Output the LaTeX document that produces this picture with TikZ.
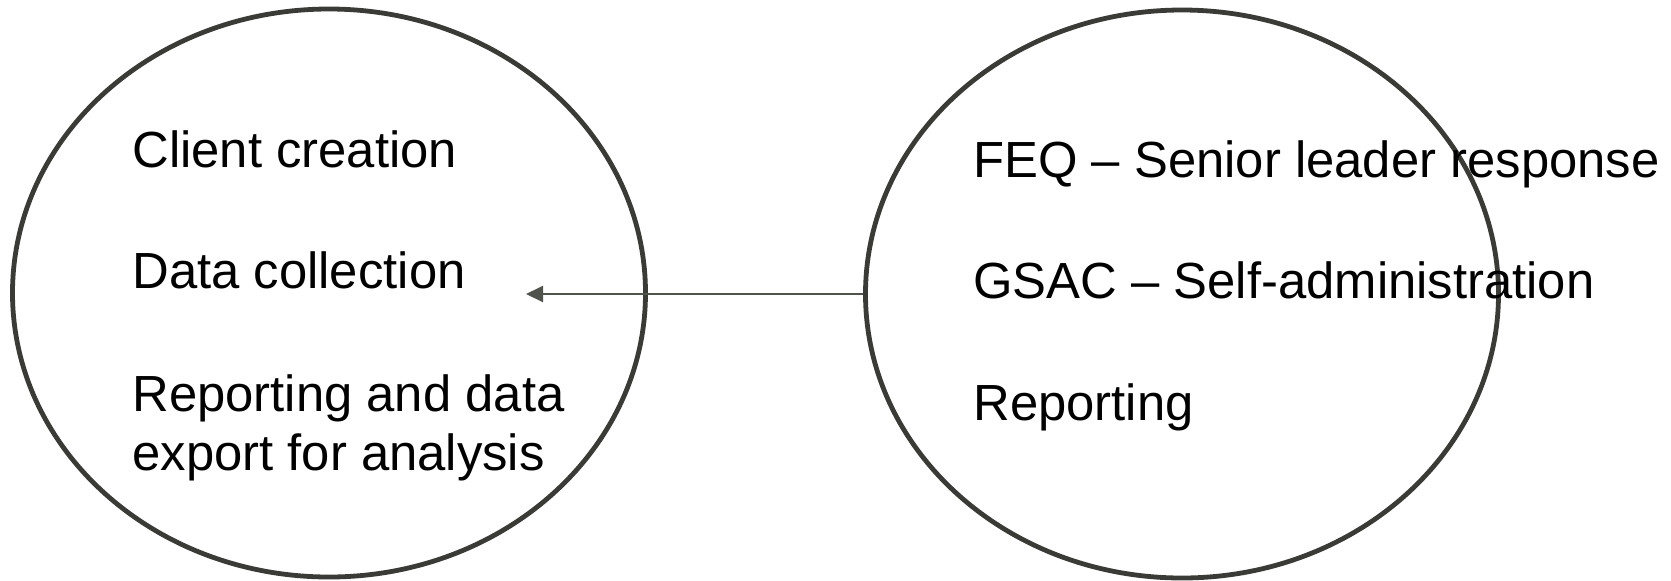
\documentclass[tikz,border=0pt]{standalone}
\usepackage{fontspec}
\setmainfont{Liberation Sans}
\usetikzlibrary{shapes.geometric}
\usetikzlibrary{arrows.meta}

\begin{document}
\begin{tikzpicture}[x=0.5pt,y=-0.5pt,
  every node/.style={font=\fontsize{25.4}{29}\selectfont},
  blob/.style={ellipse,draw=ovalgray,line width=2.4pt,inner sep=0pt,
    minimum width=316.5pt,minimum height=284pt},
  item/.style={anchor=base west,inner sep=0pt,align=left}]
\definecolor{ovalgray}{RGB}{58,58,54}
\definecolor{arrowgray}{RGB}{80,82,76}
\useasboundingbox (0,0) rectangle (1671,580);

\node[blob] (tools) at (329,293) {};
\node[blob] (survey) at (1182,294) {};

% left side items
\foreach \name/\ypos/\words in {client/167/Client creation,collect/288/Data collection} {
  \node[item] (\name) at (132,\ypos) {\words};
}
\node[item] (export) at (132,470) {Reporting and data\\[0.5pt]export for analysis};

% right side items
\foreach \name/\ypos/\words in {feq/177/FEQ -- Senior leader response,gsac/298/GSAC -- Self-administration,report/420/Reporting} {
  \node[item] (\name) at (973,\ypos) {\words};
}

\coordinate (tip) at (526,294);
\draw[arrowgray,line width=1pt,-{Triangle[length=8.5pt,width=8pt]}]
  (survey.west) -- (tip);
\end{tikzpicture}
\end{document}
